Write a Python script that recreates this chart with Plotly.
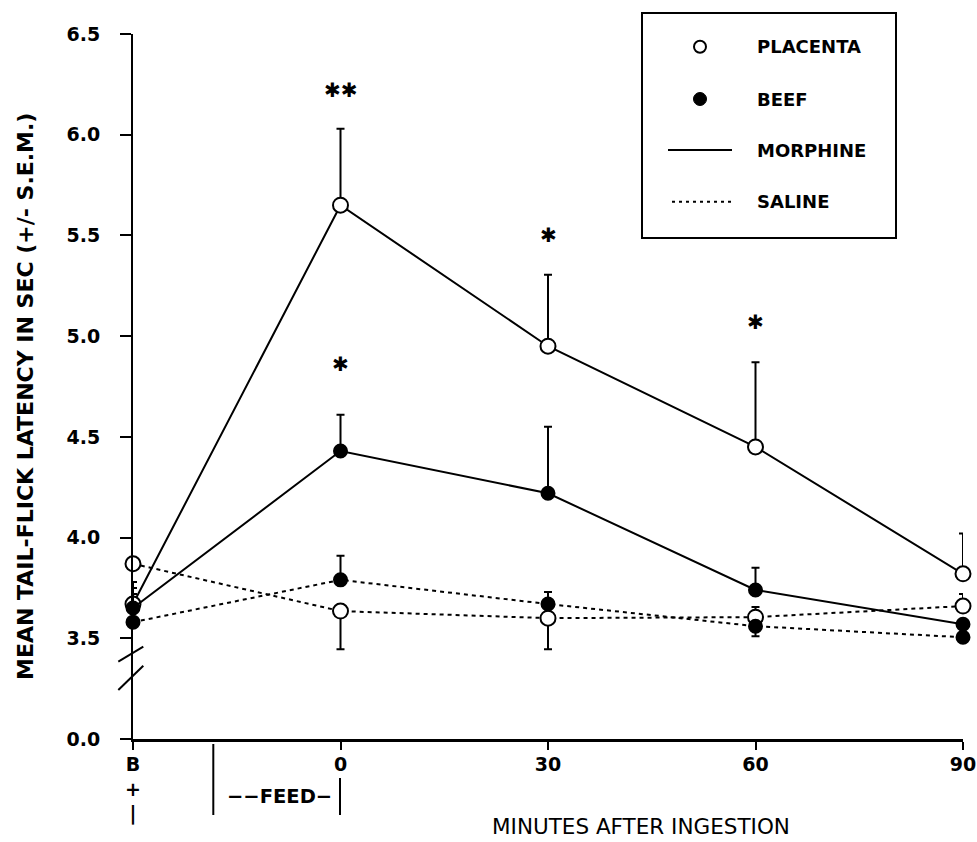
import plotly.graph_objects as go

# ---------------- data ----------------
time = [-30, 0, 30, 60, 90]
tick_text = ["B<br>+<br>|", "0", "30", "60", "90"]

placenta_morphine = [3.67, 5.65, 4.95, 4.45, 3.82]
placenta_morphine_up = [0.11, 0.38, 0.355, 0.42, 0.20]
placenta_morphine_dn = [0, 0, 0, 0, 0]

beef_morphine = [3.65, 4.43, 4.22, 3.74, 3.57]
beef_morphine_up = [0.10, 0.18, 0.33, 0.11, 0.0]
beef_morphine_dn = [0, 0, 0, 0, 0]

placenta_saline = [3.87, 3.635, 3.60, 3.605, 3.66]
placenta_saline_up = [0, 0, 0, 0.05, 0.06]
placenta_saline_dn = [0, 0.19, 0.155, 0, 0]

beef_saline = [3.58, 3.79, 3.67, 3.56, 3.505]
beef_saline_up = [0.14, 0.12, 0.06, 0, 0]
beef_saline_dn = [0, 0, 0, 0.05, 0]

y_tickvals = [3.0, 3.5, 4.0, 4.5, 5.0, 5.5, 6.0, 6.5]
y_ticktext = ["0.0", "3.5", "4.0", "4.5", "5.0", "5.5", "6.0", "6.5"]

sig_x = [0, 0, 30, 60]
sig_y = [6.22, 4.86, 5.50, 5.07]
sig_text = ["✱✱", "✱", "✱", "✱"]

legend_names = ["PLACENTA", "BEEF", "MORPHINE", "SALINE"]

# ---------------- layout helpers (pixel -> paper) ----------------
W, H = 977, 842
ML, MR, MT, MB = 133, 14, 34, 103
PW = W - ML - MR
PH = H - MT - MB


def px(xp):
    return (xp - ML) / PW


def py(yp):
    return (H - MB - yp) / PH


FONT = "DejaVu Sans"
BLACK = "black"

fig = go.Figure()


def add_series(y, up, dn, filled, dash):
    fig.add_trace(go.Scatter(
        x=time, y=y, mode="lines+markers", showlegend=False, cliponaxis=False,
        line=dict(color=BLACK, width=2, dash=dash),
        marker=dict(symbol="circle", size=13 if filled else 15,
                    color=BLACK if filled else "white",
                    line=dict(color=BLACK, width=2)),
        error_y=dict(type="data", symmetric=False, array=up, arrayminus=dn,
                     color=BLACK, thickness=2, width=4),
    ))


add_series(placenta_saline, placenta_saline_up, placenta_saline_dn, False, "4px,4px")
add_series(placenta_morphine, placenta_morphine_up, placenta_morphine_dn, False, "solid")
add_series(beef_saline, beef_saline_up, beef_saline_dn, True, "4px,4px")
add_series(beef_morphine, beef_morphine_up, beef_morphine_dn, True, "solid")

annotations = []
# significance asterisks
for sx, sy, st in zip(sig_x, sig_y, sig_text):
    annotations.append(dict(x=sx, y=sy, xref="x", yref="y", text=st, showarrow=False,
                            font=dict(family=FONT, size=20, color=BLACK),
                            xanchor="center", yanchor="middle"))

# axis titles
annotations.append(dict(x=px(25), y=py(397), xref="paper", yref="paper",
                        text="MEAN TAIL-FLICK LATENCY IN SEC (+/- S.E.M.)",
                        textangle=-90, showarrow=False,
                        font=dict(family=FONT, size=22, color=BLACK, weight="bold"),
                        xanchor="center", yanchor="middle"))
annotations.append(dict(x=px(641), y=py(826), xref="paper", yref="paper",
                        text="MINUTES AFTER INGESTION", showarrow=False,
                        font=dict(family=FONT, size=21.5, color=BLACK),
                        xanchor="center", yanchor="middle"))
# FEED bracket text
annotations.append(dict(x=px(279), y=py(797), xref="paper", yref="paper",
                        text="−−FEED−", showarrow=False,
                        font=dict(family=FONT, size=19.5, color=BLACK, weight="bold"),
                        xanchor="center", yanchor="middle"))

# legend texts
leg_rows = [46.7, 99, 150, 201.7]
for name, ry in zip(legend_names, leg_rows):
    annotations.append(dict(x=px(755), y=py(ry), xref="paper", yref="paper",
                            text=name, showarrow=False,
                            font=dict(family=FONT, size=18, color=BLACK, weight="bold"),
                            xanchor="left", yanchor="middle"))

shapes = []
# legend box
shapes.append(dict(type="rect", xref="paper", yref="paper",
                   x0=px(642), x1=px(896), y0=py(238), y1=py(13),
                   line=dict(color=BLACK, width=2), fillcolor="white", layer="above"))
# legend glyphs
shapes.append(dict(type="circle", xref="paper", yref="paper", xsizemode="pixel",
                   ysizemode="pixel", xanchor=px(700), yanchor=py(leg_rows[0]),
                   x0=-6, x1=6, y0=-6, y1=6, line=dict(color=BLACK, width=2),
                   fillcolor="white", layer="above"))
shapes.append(dict(type="circle", xref="paper", yref="paper", xsizemode="pixel",
                   ysizemode="pixel", xanchor=px(700), yanchor=py(leg_rows[1]),
                   x0=-6.5, x1=6.5, y0=-6.5, y1=6.5, line=dict(color=BLACK, width=1),
                   fillcolor=BLACK, layer="above"))
shapes.append(dict(type="line", xref="paper", yref="paper",
                   x0=px(668), x1=px(732), y0=py(leg_rows[2]), y1=py(leg_rows[2]),
                   line=dict(color=BLACK, width=2), layer="above"))
shapes.append(dict(type="line", xref="paper", yref="paper",
                   x0=px(672), x1=px(732), y0=py(leg_rows[3]), y1=py(leg_rows[3]),
                   line=dict(color=BLACK, width=2, dash="3px,4px"), layer="above"))

# axis break slashes
for (x0, y0, x1, y1) in [(118.3, 661.7, 143.3, 646.7), (118.3, 690, 143.3, 665.7)]:
    shapes.append(dict(type="line", xref="paper", yref="paper",
                       x0=px(x0), y0=py(y0), x1=px(x1), y1=py(y1),
                       line=dict(color=BLACK, width=2)))

# FEED bracket bars
shapes.append(dict(type="line", xref="paper", yref="paper",
                   x0=px(213.3), x1=px(213.3), y0=py(744), y1=py(815),
                   line=dict(color=BLACK, width=2)))
shapes.append(dict(type="line", xref="paper", yref="paper",
                   x0=px(340), x1=px(340), y0=py(778), y1=py(815),
                   line=dict(color=BLACK, width=2)))

fig.update_layout(
    width=W, height=H,
    margin=dict(l=ML, r=MR, t=MT, b=MB, pad=0, autoexpand=False),
    paper_bgcolor="white", plot_bgcolor="white",
    annotations=annotations, shapes=shapes,
    xaxis=dict(range=[-30, 90], tickvals=time, ticktext=tick_text,
               automargin=False,
               showgrid=False, zeroline=False, showline=True, linecolor=BLACK,
               linewidth=3, ticks="outside", ticklen=8, tickwidth=2, tickcolor=BLACK,
               tickfont=dict(family=FONT, size=19, color=BLACK, weight="bold"),
               ticklabelstandoff=-2),
    yaxis=dict(range=[3.0, 6.5], tickvals=y_tickvals, ticktext=y_ticktext,
               automargin=False,
               showgrid=False, zeroline=False, showline=True, linecolor=BLACK,
               linewidth=2, ticks="outside", ticklen=11, tickwidth=2, tickcolor=BLACK,
               tickfont=dict(family=FONT, size=19, color=BLACK, weight="bold"),
               ticklabelstandoff=16),
)

fig.write_html("out.html",
               config={"displayModeBar": False},
               post_script="document.body.style.margin='0';"
                           "document.body.style.overflow='hidden';")
